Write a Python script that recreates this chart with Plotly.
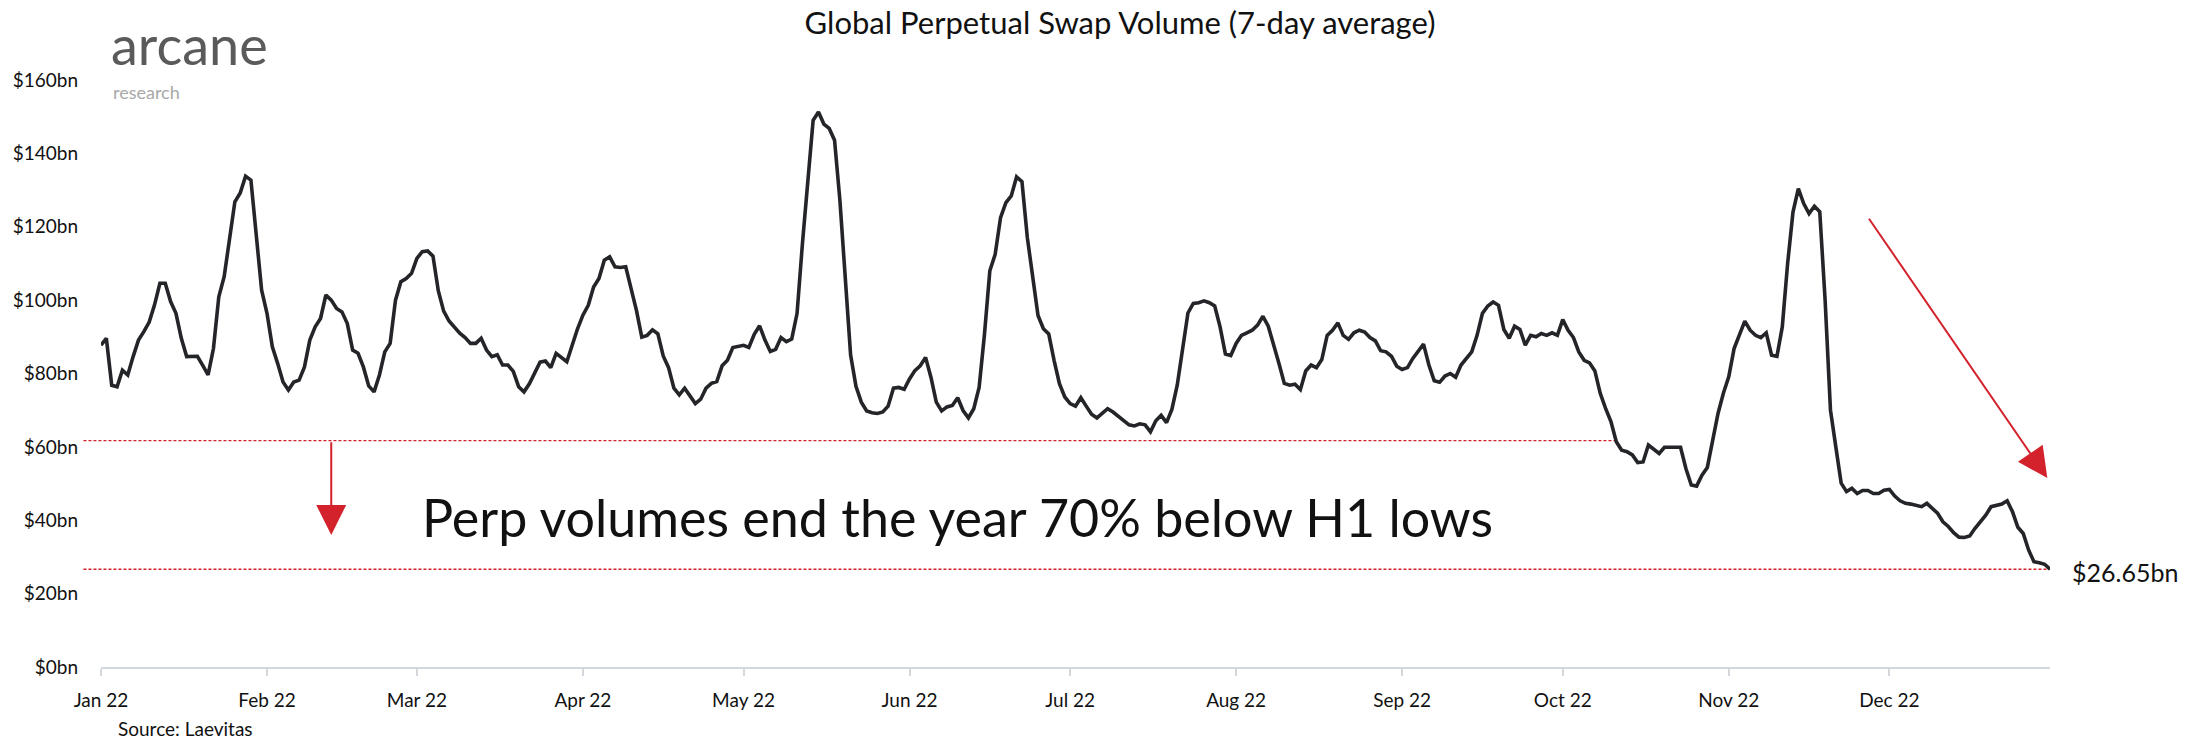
import pandas as pd
import plotly.graph_objects as go

# ---- data ($bn, daily 7-day average, 2022) ----
volume_bn = [
    87.7, 89.6, 76.8, 76.4, 80.9, 79.6, 84.6, 89.1, 91.4, 94.0,
    98.7, 104.6, 104.6, 99.6, 96.4, 89.6, 84.6, 84.7, 84.7, 82.2,
    79.6, 86.8, 100.9, 106.4, 116.3, 126.8, 129.2, 133.8, 132.7, 118.2,
    102.7, 96.4, 87.3, 82.7, 77.7, 75.5, 77.7, 78.2, 81.8, 89.1,
    92.7, 95.0, 101.4, 100.0, 97.7, 96.8, 93.6, 86.4, 85.5, 81.8,
    76.6, 75.0, 79.6, 85.9, 88.2, 100.0, 105.0, 105.9, 107.3, 111.4,
    113.2, 113.4, 112.0, 102.5, 97.0, 94.3, 92.7, 91.0, 89.8, 88.2,
    88.2, 89.6, 86.4, 84.6, 85.1, 82.3, 82.3, 80.6, 76.4, 75.0,
    77.2, 80.4, 83.1, 83.4, 81.6, 85.5, 84.4, 83.2, 87.7, 92.2,
    95.9, 98.6, 103.6, 105.9, 110.9, 111.8, 109.1, 108.9, 109.1, 103.6,
    97.2, 89.9, 90.4, 91.9, 90.8, 84.8, 81.6, 76.0, 74.2, 76.0,
    73.9, 71.8, 73.0, 76.0, 77.3, 77.8, 82.1, 83.6, 87.1, 87.5,
    87.7, 87.1, 90.7, 93.0, 89.1, 86.0, 86.6, 89.8, 88.7, 89.4,
    96.4, 115.4, 130.9, 149.0, 151.3, 148.0, 146.8, 143.6, 127.2, 105.0,
    85.0, 76.5, 72.2, 69.8, 69.3, 69.1, 69.5, 71.1, 76.0, 76.2,
    75.7, 78.5, 80.8, 82.1, 84.4, 79.0, 72.2, 69.8, 70.9, 71.3,
    73.4, 69.9, 67.9, 70.4, 76.2, 90.7, 108.0, 112.5, 122.5, 126.6,
    128.4, 133.6, 132.3, 117.1, 107.1, 95.8, 92.2, 90.8, 83.6, 77.2,
    73.6, 71.8, 71.1, 73.4, 71.1, 68.9, 67.9, 69.1, 70.4, 69.5,
    68.4, 67.0, 66.0, 65.7, 66.3, 66.0, 64.1, 67.1, 68.6, 66.6,
    70.2, 76.8, 87.3, 96.5, 99.1, 99.3, 99.8, 99.3, 98.4, 92.7,
    85.3, 84.9, 88.2, 90.4, 91.1, 91.8, 93.2, 95.6, 92.9, 88.0,
    82.7, 77.3, 76.8, 77.1, 75.6, 80.7, 82.3, 81.6, 83.8, 90.4,
    91.8, 93.8, 90.4, 89.3, 91.1, 91.8, 91.3, 89.8, 88.9, 86.2,
    85.9, 84.7, 82.0, 81.1, 81.6, 84.1, 86.2, 88.0, 82.3, 78.0,
    77.6, 79.3, 80.0, 79.0, 82.3, 84.1, 85.9, 90.4, 96.4, 98.4,
    99.5, 98.6, 92.0, 89.6, 92.9, 92.0, 87.7, 90.4, 90.0, 90.9,
    90.4, 91.1, 90.4, 94.7, 91.8, 89.8, 85.9, 83.6, 82.9, 80.7,
    74.6, 70.5, 66.9, 61.4, 59.1, 58.7, 57.8, 55.7, 55.9, 60.5,
    59.3, 58.2, 59.9, 59.9, 59.9, 59.9, 54.1, 49.6, 49.3, 52.3,
    54.4, 62.3, 69.1, 74.6, 79.1, 86.8, 90.4, 94.3, 91.8, 90.4,
    89.8, 91.1, 85.0, 84.7, 92.7, 110.0, 124.0, 130.4, 126.3, 123.6,
    125.6, 124.1, 100.0, 70.0, 60.0, 50.1, 47.8, 48.7, 47.3, 48.1,
    48.1, 47.3, 47.3, 48.2, 48.4, 46.6, 45.3, 44.6, 44.4, 44.1,
    43.7, 44.6, 43.2, 41.9, 39.6, 38.3, 36.6, 35.4, 35.3, 35.7,
    37.8, 39.6, 41.4, 43.7, 44.1, 44.4, 45.3, 42.3, 38.1, 36.4,
    31.9, 28.7, 28.4, 28.0, 26.65,
]
dates = pd.date_range("2022-01-01", periods=len(volume_bn), freq="D")

y_ticks = [0, 20, 40, 60, 80, 100, 120, 140, 160]
y_tick_labels = [f"${v}bn" for v in y_ticks]

H1_LOW_BN = 61.7                       # level of the upper dashed line
H1_LINE_END = pd.Timestamp("2022-10-11")  # where the dashed line meets the series
END_BN = volume_bn[-1]
END_LABEL = f"${END_BN:.2f}bn"

DOWN_ARROW_DATE = pd.Timestamp("2022-02-13")
DOWN_ARROW_TIP_BN = 36.0
DIAG_ARROW_TAIL = (pd.Timestamp("2022-11-27"), 122.6)
DIAG_ARROW_TIP = (pd.Timestamp("2022-12-30 12:00"), 51.5)
NOTE_POS = (pd.Timestamp("2022-06-10"), 40.9)
NOTE_TEXT = "Perp volumes end the year 70% below H1 lows"
TITLE = "Global Perpetual Swap Volume (7-day average)"

RED = "#d3222c"
LINE = "#232529"
FONT = "Lato"

x_start, x_end = dates[0], dates[-1]


def frac(d):
    return (pd.Timestamp(d) - x_start) / (x_end - x_start)


fig = go.Figure()
fig.add_trace(go.Scatter(
    x=dates, y=volume_bn, mode="lines",
    line=dict(color=LINE, width=3.6), hoverinfo="skip", showlegend=False,
))

LEFT_EXT = -0.009
fig.add_shape(type="line", xref="paper", yref="y",
              x0=LEFT_EXT, x1=frac(H1_LINE_END), y0=H1_LOW_BN, y1=H1_LOW_BN,
              line=dict(color=RED, width=1.3, dash="3px,2px"), layer="below")
fig.add_shape(type="line", xref="paper", yref="y",
              x0=LEFT_EXT, x1=frac(x_end), y0=END_BN, y1=END_BN,
              line=dict(color=RED, width=1.3, dash="3px,2px"), layer="below")

# down arrow
fig.add_annotation(x=DOWN_ARROW_DATE, y=DOWN_ARROW_TIP_BN, ax=DOWN_ARROW_DATE, ay=H1_LOW_BN,
                   xref="x", yref="y", axref="x", ayref="y", text="",
                   showarrow=True, arrowhead=2, arrowsize=3, arrowwidth=2, arrowcolor=RED)
# diagonal arrow
fig.add_annotation(x=DIAG_ARROW_TIP[0], y=DIAG_ARROW_TIP[1],
                   ax=DIAG_ARROW_TAIL[0], ay=DIAG_ARROW_TAIL[1],
                   xref="x", yref="y", axref="x", ayref="y", text="",
                   showarrow=True, arrowhead=2, arrowsize=3, arrowwidth=2, arrowcolor=RED)

fig.add_annotation(x=NOTE_POS[0], y=NOTE_POS[1], text=NOTE_TEXT, showarrow=False,
                   xanchor="center", yanchor="middle",
                   font=dict(family=FONT, size=52, color="#111111"))
fig.add_annotation(x=x_end, y=END_BN, text=END_LABEL, showarrow=False,
                   xanchor="left", yanchor="middle", xshift=20, yshift=-3,
                   font=dict(family=FONT, size=25, color="#111111"))

# logo + source
fig.add_annotation(xref="paper", yref="paper", x=0.004, y=1.002, text="arcane",
                   showarrow=False, xanchor="left", yanchor="bottom",
                   font=dict(family=FONT, size=54, color="#5a5a5a"))
fig.add_annotation(xref="paper", yref="paper", x=0.005, y=0.98, text="research",
                   showarrow=False, xanchor="left", yanchor="middle",
                   font=dict(family=FONT, size=18, color="#a8a8a8"))
fig.add_annotation(xref="paper", yref="paper", x=0.0075, y=-0.1056, text="Source: Laevitas",
                   showarrow=False, xanchor="left", yanchor="middle",
                   font=dict(family=FONT, size=19, color="#111111"))

fig.update_layout(
    width=2208, height=742,
    margin=dict(l=101, r=158, t=80, b=75),
    paper_bgcolor="white", plot_bgcolor="white",
    title=dict(text=TITLE, x=1120 / 2208, xanchor="center", xref="container",
               y=1 - 23 / 742, yanchor="middle", yref="container",
               font=dict(family=FONT, size=31, color="#111111")),
    font=dict(family=FONT, color="#111111"),
)
fig.update_xaxes(
    range=[x_start, x_end], type="date",
    tick0="2022-01-01", dtick="M1", tickformat="%b %y",
    showgrid=False, zeroline=False,
    showline=True, linecolor="#d3d8df", linewidth=2,
    ticks="outside", ticklen=7, tickwidth=2, tickcolor="#d3d8df",
    ticklabelstandoff=8,
    tickfont=dict(family=FONT, size=19, color="#111111"),
)
fig.update_yaxes(
    range=[0, 160], tickvals=y_ticks, ticktext=y_tick_labels,
    showgrid=False, zeroline=False, showline=False, ticks="",
    ticklabelstandoff=22,
    tickfont=dict(family=FONT, size=19, color="#111111"),
)

fig.write_html(
    "out.html",
    config={"displayModeBar": False},
    post_script="document.body.style.margin='0';document.body.style.overflow='hidden';",
)
